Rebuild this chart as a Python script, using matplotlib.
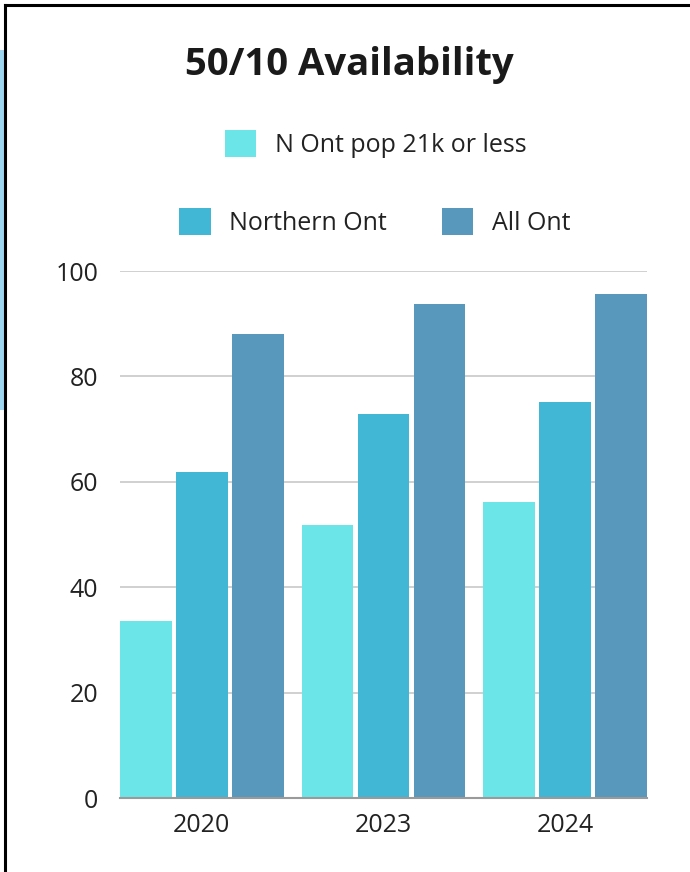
import numpy as np
import matplotlib
matplotlib.use("Agg")
from matplotlib import pyplot as plt
from matplotlib.lines import Line2D
from matplotlib.patches import Rectangle

years = ["2020", "2023", "2024"]
series = ["N Ont pop 21k or less", "Northern Ont", "All Ont"]
small_towns = [33.5, 51.8, 56.2]
northern = [61.8, 72.9, 75.2]
all_ont = [88.0, 93.8, 95.7]
colors = ["#6ce5e8", "#41b6d5", "#5898bd"]

plt.rcParams['font.family'] = ['Open Sans', 'DejaVu Sans']

fig = plt.figure(figsize=(6.9, 8.72), dpi=100)
ax = fig.add_axes([120/690, 1 - 798/872, 527/690, 527/872])

x = np.arange(len(years))
width = 0.285
step = 0.308
bars = []
for i, (vals, c) in enumerate(zip([small_towns, northern, all_ont], colors)):
    b = ax.bar(x + (i - 1) * step, vals, width, color=c, zorder=3, label=series[i])
    bars.append(b)

ax.set_xlim(-0.45, 2.45)
ax.set_ylim(0, 100)
ax.set_yticks([0, 20, 40, 60, 80, 100])
ax.set_xticks(x)
ax.set_xticklabels(years)
ax.grid(axis='y', color='#c8c8c8', linewidth=1.2, zorder=0)
for s in ['top', 'right', 'left']:
    ax.spines[s].set_visible(False)
ax.spines['bottom'].set_color('#9a9a9a')
ax.spines['bottom'].set_linewidth(1.5)
ax.spines['bottom'].set_zorder(4)
ax.tick_params(axis='both', length=0, labelsize=18, labelcolor='#222222')
ax.tick_params(axis='y', pad=15.5)
ax.tick_params(axis='x', pad=11)

fig.text(0.507, 1 - 65/872, "50/10 Availability", ha='center', va='center',
         fontsize=27.5, fontweight='bold', color='#1a1a1a')

leg_kw = dict(frameon=False, fontsize=18, handlelength=1.25, handleheight=1.25,
              handletextpad=0.75, columnspacing=2.2, labelcolor='#222222')
fig.legend([bars[0]], [series[0]], loc='center', bbox_to_anchor=(376/690, 1 - 144/872), **leg_kw)
fig.legend([bars[1], bars[2]], series[1:], loc='center', ncol=2,
           bbox_to_anchor=(375/690, 1 - 222/872), **leg_kw)

# frame lines and side strip
fig.add_artist(Rectangle((0, 1 - 410/872), 4/690, 360/872, transform=fig.transFigure,
                         color='#9ed6ef', lw=0))
fig.add_artist(Line2D([5/690, 1], [1 - 5/872, 1 - 5/872], transform=fig.transFigure,
                      color='black', lw=2.2))
fig.add_artist(Line2D([5/690, 5/690], [0, 1 - 5/872], transform=fig.transFigure,
                      color='black', lw=2.2))

fig.savefig("out.png", dpi=100)
